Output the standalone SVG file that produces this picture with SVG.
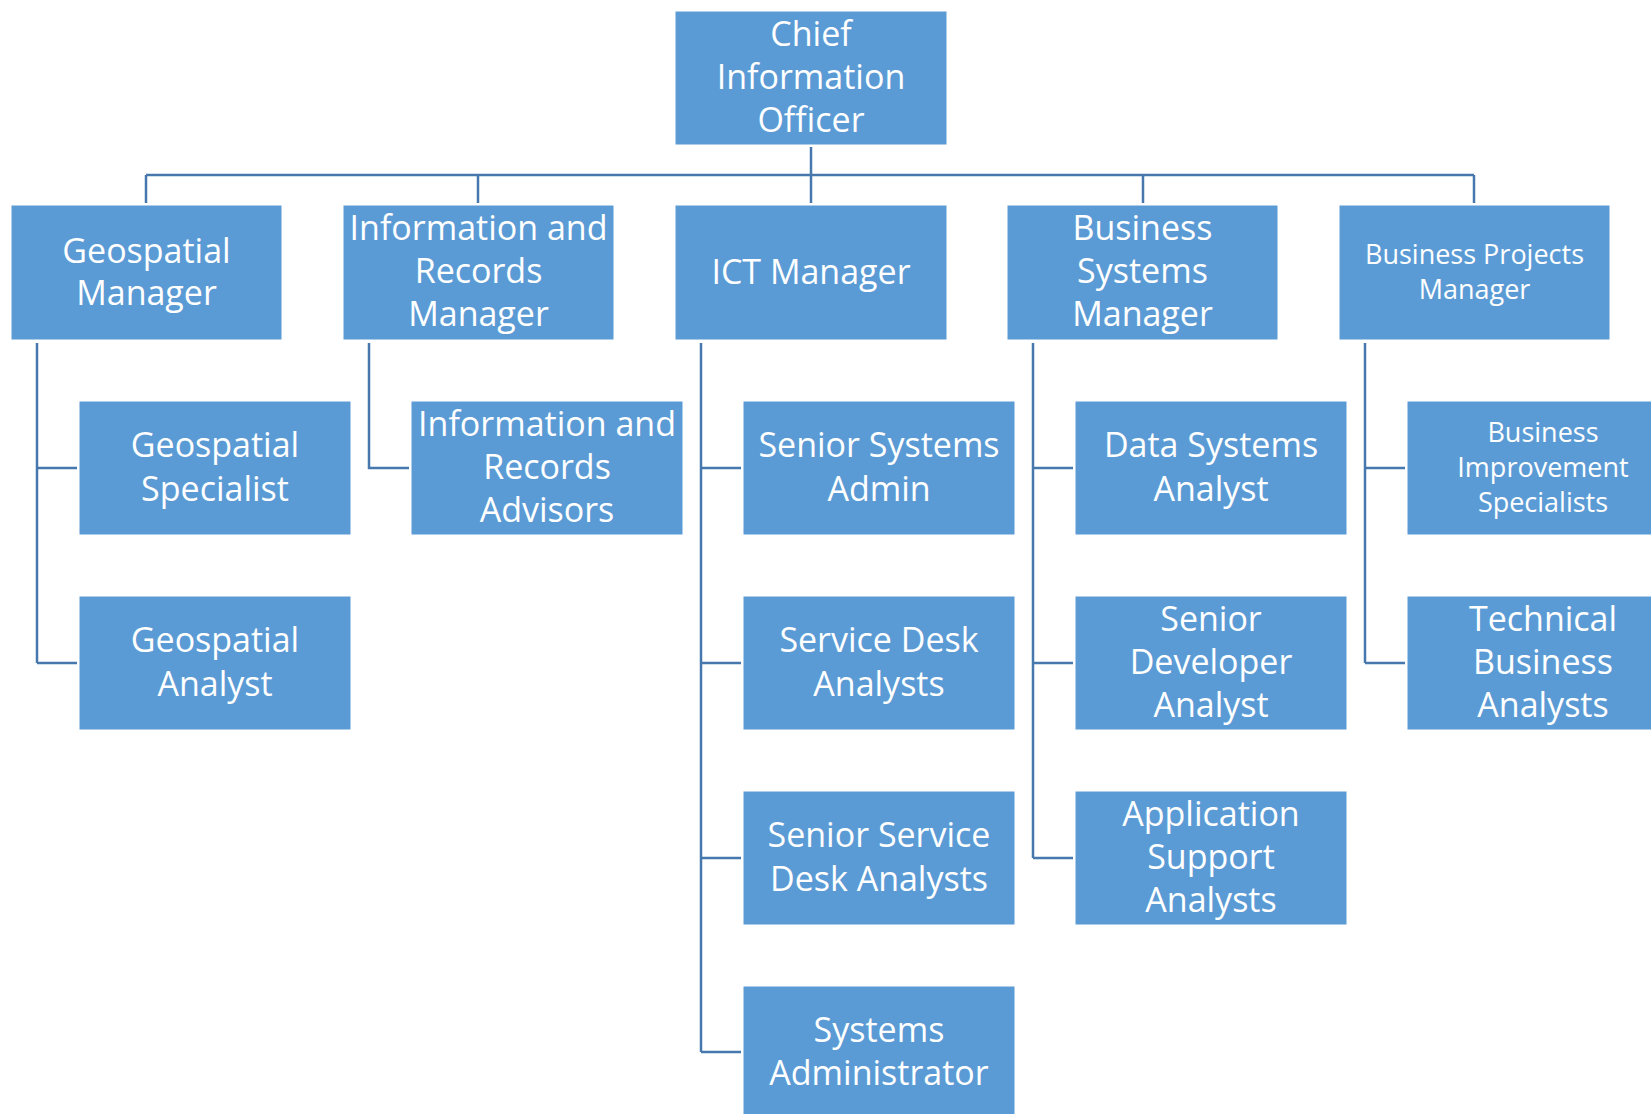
<svg xmlns="http://www.w3.org/2000/svg" width="1651" height="1114" viewBox="0 0 1651 1114">
<style>
.box{fill:#5b9bd5;stroke:#ffffff;stroke-width:1}
.t{font-family:"Open Sans","Liberation Sans",sans-serif;font-size:34px;fill:#ffffff;text-anchor:middle}
.s{font-size:27px}
.ln{fill:none;stroke:#4677ad;stroke-width:2.5}
</style>
<rect width="1651" height="1114" fill="#ffffff"/>
<g id="connectors">
<path class="ln" d="M811 147V175M146 175H1474M146 175V203M478 175V203M811 175V203M1143 175V203M1474 175V203"/>
<path class="ln" d="M37 343V663M37 468H77M37 663H77"/>
<path class="ln" d="M369 343V468H409"/>
<path class="ln" d="M701 343V1052M701 468H741M701 663H741M701 858H741M701 1052H741"/>
<path class="ln" d="M1033 343V858M1033 468H1073M1033 663H1073M1033 858H1073"/>
<path class="ln" d="M1365 343V663M1365 468H1405M1365 663H1405"/>
</g>
<g id="cio"><rect class="box" x="675" y="11" width="272" height="134"/>
<text class="t" x="811" y="46">Chief</text><text class="t" x="811" y="89">Information</text><text class="t" x="811" y="132">Officer</text></g>
<g id="geo-mgr"><rect class="box" x="11" y="205" width="271" height="135"/>
<text class="t" x="146.5" y="263">Geospatial</text><text class="t" x="146.5" y="305">Manager</text></g>
<g id="irm"><rect class="box" x="343" y="205" width="271" height="135"/>
<text class="t" x="478.5" y="240">Information and</text><text class="t" x="478.5" y="283">Records</text><text class="t" x="478.5" y="326">Manager</text></g>
<g id="ict"><rect class="box" x="675" y="205" width="272" height="135"/>
<text class="t" x="811" y="284">ICT Manager</text></g>
<g id="bsm"><rect class="box" x="1007" y="205" width="271" height="135"/>
<text class="t" x="1142.5" y="240">Business</text><text class="t" x="1142.5" y="283">Systems</text><text class="t" x="1142.5" y="326">Manager</text></g>
<g id="bpm"><rect class="box" x="1339" y="205" width="271" height="135"/>
<text class="t s" x="1474.5" y="264">Business Projects</text><text class="t s" x="1474.5" y="299">Manager</text></g>
<g id="geo-spec"><rect class="box" x="79" y="401" width="272" height="134"/>
<text class="t" x="215" y="457">Geospatial</text><text class="t" x="215" y="501">Specialist</text></g>
<g id="geo-analyst"><rect class="box" x="79" y="596" width="272" height="134"/>
<text class="t" x="215" y="652">Geospatial</text><text class="t" x="215" y="696">Analyst</text></g>
<g id="ira"><rect class="box" x="411" y="401" width="272" height="134"/>
<text class="t" x="547" y="436">Information and</text><text class="t" x="547" y="479">Records</text><text class="t" x="547" y="522">Advisors</text></g>
<g id="ssa"><rect class="box" x="743" y="401" width="272" height="134"/>
<text class="t" x="879" y="457">Senior Systems</text><text class="t" x="879" y="501">Admin</text></g>
<g id="sda"><rect class="box" x="743" y="596" width="272" height="134"/>
<text class="t" x="879" y="652">Service Desk</text><text class="t" x="879" y="696">Analysts</text></g>
<g id="ssda"><rect class="box" x="743" y="791" width="272" height="134"/>
<text class="t" x="879" y="847">Senior Service</text><text class="t" x="879" y="891">Desk Analysts</text></g>
<g id="sysadmin"><rect class="box" x="743" y="986" width="272" height="134"/>
<text class="t" x="879" y="1042">Systems</text><text class="t" x="879" y="1085">Administrator</text></g>
<g id="dsa"><rect class="box" x="1075" y="401" width="272" height="134"/>
<text class="t" x="1211" y="457">Data Systems</text><text class="t" x="1211" y="501">Analyst</text></g>
<g id="sdev"><rect class="box" x="1075" y="596" width="272" height="134"/>
<text class="t" x="1211" y="631">Senior</text><text class="t" x="1211" y="674">Developer</text><text class="t" x="1211" y="717">Analyst</text></g>
<g id="asa"><rect class="box" x="1075" y="791" width="272" height="134"/>
<text class="t" x="1211" y="826">Application</text><text class="t" x="1211" y="869">Support</text><text class="t" x="1211" y="912">Analysts</text></g>
<g id="bis"><rect class="box" x="1407" y="401" width="272" height="134"/>
<text class="t s" x="1543" y="442">Business</text><text class="t s" x="1543" y="477">Improvement</text><text class="t s" x="1543" y="512">Specialists</text></g>
<g id="tba"><rect class="box" x="1407" y="596" width="272" height="134"/>
<text class="t" x="1543" y="631">Technical</text><text class="t" x="1543" y="674">Business</text><text class="t" x="1543" y="717">Analysts</text></g>
</svg>
